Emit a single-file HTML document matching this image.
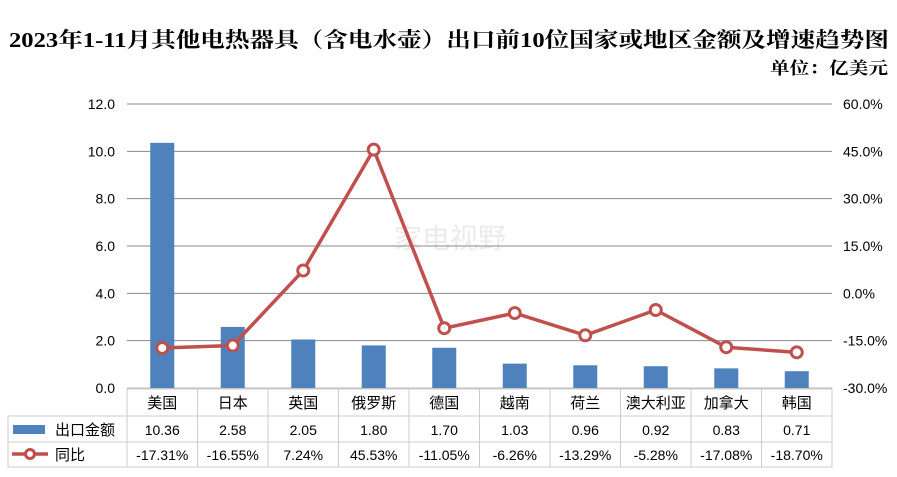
<!DOCTYPE html>
<html><head><meta charset="utf-8"><style>
body{margin:0;background:#fff}
svg{display:block;font-family:"Liberation Sans","Noto Sans CJK SC",sans-serif}
</style></head><body>
<svg id="c" width="897" height="477">
<text x="9" y="47" textLength="880" lengthAdjust="spacingAndGlyphs" font-size="21" font-weight="bold" font-family="Liberation Serif,Noto Serif CJK SC,serif">2023年1-11月其他电热器具（含电水壶）出口前10位国家或地区金额及增速趋势图</text>
<text x="770" y="74" textLength="118" lengthAdjust="spacingAndGlyphs" font-size="17" font-weight="bold" font-family="Liberation Serif,Noto Serif CJK SC,serif">单位：亿美元</text>
<text x="450" y="248" text-anchor="middle" font-size="28" fill="#ebebeb">家电视野</text>
<g id="g"></g>
</svg>
<script>
const categories=["美国","日本","英国","俄罗斯","德国","越南","荷兰","澳大利亚","加拿大","韩国"];
const amounts=[10.36,2.58,2.05,1.80,1.70,1.03,0.96,0.92,0.83,0.71];
const growth=[-17.31,-16.55,7.24,45.53,-11.05,-6.26,-13.29,-5.28,-17.08,-18.70];
const leftTicks=[0,2,4,6,8,10,12];
const rightTicks=[-30,-15,0,15,30,45,60];
const NS="http://www.w3.org/2000/svg";
const g=document.getElementById('g');
const X0=127,X1=832,Y0=388,Y1=104,cw=(X1-X0)/categories.length;
const yL=v=>Y0-(v/12)*(Y0-Y1);
const yR=v=>Y0-((v+30)/90)*(Y0-Y1);
const xC=i=>X0+cw*(i+0.5);
function mk(t,a,p){const e=document.createElementNS(NS,t);for(const k in a)e.setAttribute(k,a[k]);(p||g).appendChild(e);return e;}
leftTicks.forEach(v=>{
 const l=mk('line',{x1:X0,x2:X1,y1:yL(v),y2:yL(v),stroke:v===0?'#bbb':'#888','stroke-width':1});
 
 
 const t=mk('text',{x:115,y:yL(v)+5,'text-anchor':'end','font-size':14});t.textContent=v.toFixed(1);
 
 
});
rightTicks.forEach(v=>{
 const t=mk('text',{x:843,y:yR(v)+5,'font-size':14});t.textContent=v.toFixed(1)+'%';
 
 
});
amounts.forEach((v,i)=>{
 const r=mk('rect',{x:xC(i)-12,y:yL(v),width:24,height:Y0-yL(v),fill:'#4f81bd'});
 
 
});
const pl=mk('polyline',{points:growth.map((v,i)=>xC(i)+','+yR(v)).join(' '),fill:'none',stroke:'#c0504d','stroke-width':3.5});


growth.forEach((v,i)=>{
 const c=mk('circle',{cx:xC(i),cy:yR(v),r:5.5,fill:'#fff',stroke:'#c0504d','stroke-width':3});
 
 
});
const bd='#ccc';
[[X0,X1,389],[8,X1,416],[8,X1,442],[8,X1,467]].forEach(a=>mk('line',{x1:a[0],x2:a[1],y1:a[2],y2:a[2],stroke:bd}));
mk('line',{x1:8,x2:8,y1:416,y2:467,stroke:bd});
for(let i=0;i<=categories.length;i++)mk('line',{x1:X0+cw*i,x2:X0+cw*i,y1:389,y2:467,stroke:bd});
categories.forEach((c,i)=>{
 const t=mk('text',{x:xC(i),y:408,'text-anchor':'middle','font-size':15});t.textContent=c;
 
 
 const a=mk('text',{x:xC(i),y:435,'text-anchor':'middle','font-size':14});a.textContent=amounts[i].toFixed(2);
 
 
 const b=mk('text',{x:xC(i),y:460,'text-anchor':'middle','font-size':14});b.textContent=growth[i].toFixed(2)+'%';
 
 
});
const lg1=mk('rect',{x:13,y:425,width:32,height:9,fill:'#4f81bd'});


const lt1=mk('text',{x:55,y:435,'font-size':15});lt1.textContent='出口金额';


mk('line',{x1:12,x2:48,y1:454,y2:454,stroke:'#c0504d','stroke-width':3.5});
mk('circle',{cx:30,cy:454,r:4.5,fill:'#fff',stroke:'#c0504d','stroke-width':3});
const lt2=mk('text',{x:55,y:460,'font-size':15});lt2.textContent='同比';


</script>
</body></html>
